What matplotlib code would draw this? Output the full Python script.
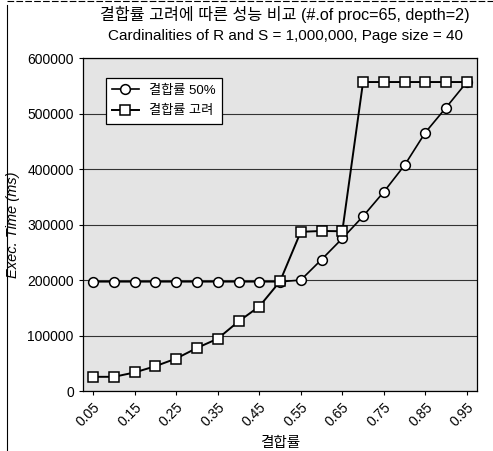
import matplotlib.pyplot as plt
import matplotlib.transforms as mtransforms
from matplotlib.lines import Line2D

plt.rcParams['font.family'] = ['Liberation Sans', 'Noto Sans CJK KR', 'DejaVu Sans']

join_rate = [0.05, 0.10, 0.15, 0.20, 0.25, 0.30, 0.35, 0.40, 0.45, 0.50,
             0.55, 0.60, 0.65, 0.70, 0.75, 0.80, 0.85, 0.90, 0.95]
fixed_50 = [197000, 197000, 197000, 197000, 197000, 197000, 197000, 197000, 197000, 197000,
            200000, 237000, 275000, 315000, 359000, 407000, 466000, 511000, 557000]
considered = [25600, 25600, 33500, 44800, 58600, 77600, 94400, 125400, 152300, 197700,
              287000, 288500, 288000, 557000, 557000, 557000, 557000, 557000, 557000]
tick_vals = [0.05, 0.15, 0.25, 0.35, 0.45, 0.55, 0.65, 0.75, 0.85, 0.95]
tick_labels = ["0.05", "0.15", "0.25", "0.35", "0.45", "0.55", "0.65", "0.75", "0.85", "0.95"]

fig = plt.figure(figsize=(4.93, 4.51), dpi=100)
ax = fig.add_axes([0.168, 0.133, 0.800, 0.738])
ax.set_facecolor('#e4e4e4')

ax.plot(join_rate, fixed_50, color='black', lw=1.2, marker='o', ms=7,
        mfc='white', mec='black', mew=1.1, label='결합률 50%', zorder=3)
ax.plot(join_rate, considered, color='black', lw=1.4, marker='s', ms=7.5,
        mfc='white', mec='black', mew=1.1, label='결합률 고려', zorder=3)

ax.set_xlim(0.025, 0.975)
ax.set_ylim(0, 600000)
ax.set_yticks(range(0, 600001, 100000))
ax.set_yticklabels([str(v) for v in range(0, 600001, 100000)], fontsize=10)
ax.set_xticks(tick_vals)
ax.set_xticklabels(tick_labels, rotation=45, fontsize=10, ha='right', rotation_mode='anchor')
# rotated labels sit a little left of their ticks in the original
shift = mtransforms.ScaledTranslation(-6 / 100, -2 / 100, fig.dpi_scale_trans)
for lab in ax.get_xticklabels():
    lab.set_transform(lab.get_transform() + shift)
ax.grid(axis='y', color='#333333', lw=0.8)
ax.set_axisbelow(True)
ax.tick_params(length=3, width=0.8)
for s in ax.spines.values():
    s.set_linewidth(0.9)

ax.set_xlabel('결합률', fontsize=10.5, labelpad=5)
ax.set_ylabel('Exec. Time (ms)', fontsize=10.5, style='italic', labelpad=5)

fig.text(0.577, 0.967, '결합률 고려에 따른 성능 비교 (#.of proc=65, depth=2)',
         ha='center', va='center', fontsize=11.6)
fig.text(0.58, 0.920, 'Cardinalities of R and S = 1,000,000, Page size = 40',
         ha='center', va='center', fontsize=11)

leg = ax.legend(loc='upper left', bbox_to_anchor=(0.058, 0.94), fontsize=9.5,
                frameon=True, fancybox=False, edgecolor='black', framealpha=1,
                handlelength=2.0, borderpad=0.5, labelspacing=0.6, borderaxespad=0)
leg.get_frame().set_linewidth(0.9)

fig.add_artist(Line2D([0.015, 0.015], [0.0, 0.99], color='black', lw=0.8))
fig.add_artist(Line2D([0.015, 1.0], [0.997, 0.997], color='black', lw=0.8, ls=(0, (6, 2))))

fig.savefig('out.png', dpi=100)
